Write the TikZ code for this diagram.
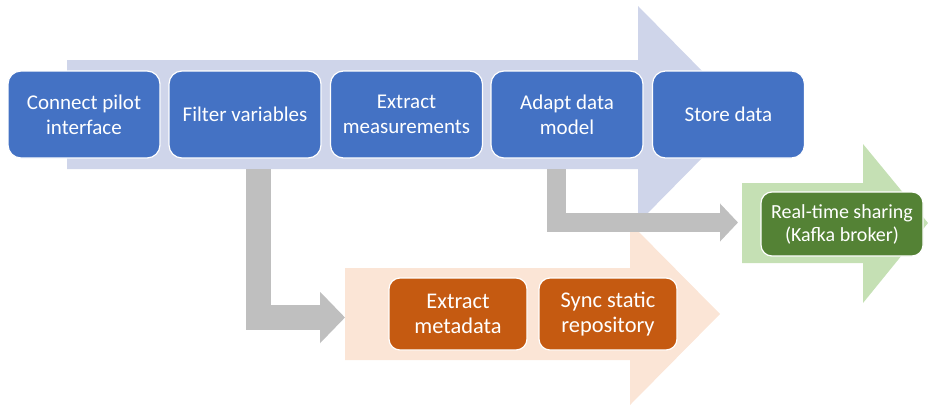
\documentclass[tikz,border=0pt]{standalone}
\usepackage{fontspec}
\setmainfont{Carlito}
\usetikzlibrary{arrows.meta}
\definecolor{bluebg}{HTML}{CFD5EA}
\definecolor{bluebox}{HTML}{4472C4}
\definecolor{orbg}{HTML}{FBE5D6}
\definecolor{orbox}{HTML}{C55A11}
\definecolor{grbg}{HTML}{C5E0B4}
\definecolor{grbox}{HTML}{548235}
\definecolor{conngray}{HTML}{BFBFBF}
\tikzset{
  box/.style={draw=white, line width=1.2pt, text=white, align=center, rounded corners=13pt,
    font=\fontsize{21}{25}\selectfont, inner sep=0pt},
  bluestep/.style={box, fill=bluebox, minimum width=152pt, minimum height=87pt},
  orstep/.style={box, fill=orbox, minimum width=138pt, minimum height=72pt, rounded corners=11pt,
    font=\fontsize{22.4}{25}\selectfont},
  grstep/.style={box, fill=grbox, minimum width=162pt, minimum height=64pt, rounded corners=11pt,
    font=\fontsize{20}{23}\selectfont},
  conn/.style={draw=conngray, line join=miter, line cap=butt}
}
\begin{document}
\begin{tikzpicture}[x=1pt,y=-1pt]
\useasboundingbox (0,0) rectangle (928,407);
% background arrows
\fill[bluebg] (67,60) -- (638,60) -- (638,6) -- (745,114.5) -- (638,223) -- (638,169) -- (67,169) -- cycle;
\fill[orbg] (345,268) -- (630,268) -- (630,223) -- (720,314) -- (630,405) -- (630,360) -- (345,360) -- cycle;
\fill[grbg] (742,183) -- (863,183) -- (863,144) -- (928,223) -- (863,303) -- (863,263) -- (742,263) -- cycle;
\coordinate (orW) at (345,317.5);
\coordinate (grW) at (738,222.5);
\coordinate (c1s) at (258.5,169);
\coordinate (c2s) at (556.5,169);
% connectors
\draw[conn, line width=25pt, -{Triangle[length=25pt,width=50pt]}] (c1s) |- (orW);
\draw[conn, line width=19pt, -{Triangle[length=18pt,width=37pt]}] (c2s) |- (grW);
% blue steps
\node[bluestep] (connect) at (84,114.5) {Connect pilot\\interface};
\node[bluestep] (filter) at (245,114.5) {Filter variables};
\node[bluestep] (extract) at (406.5,114.5) {Extract\\measurements};
\node[bluestep] (adapt) at (567,114.5) {Adapt data\\model};
\node[bluestep] (store) at (728.5,114.5) {Store data};
% orange steps
\node[orstep] (meta) at (458,314) {Extract\\metadata};
\node[orstep] (sync) at (608,314) {Sync static\\repository};
% green step
\node[grstep] (kafka) at (842,224) {Real-time sharing\\(Kafka broker)};
\end{tikzpicture}
\end{document}
